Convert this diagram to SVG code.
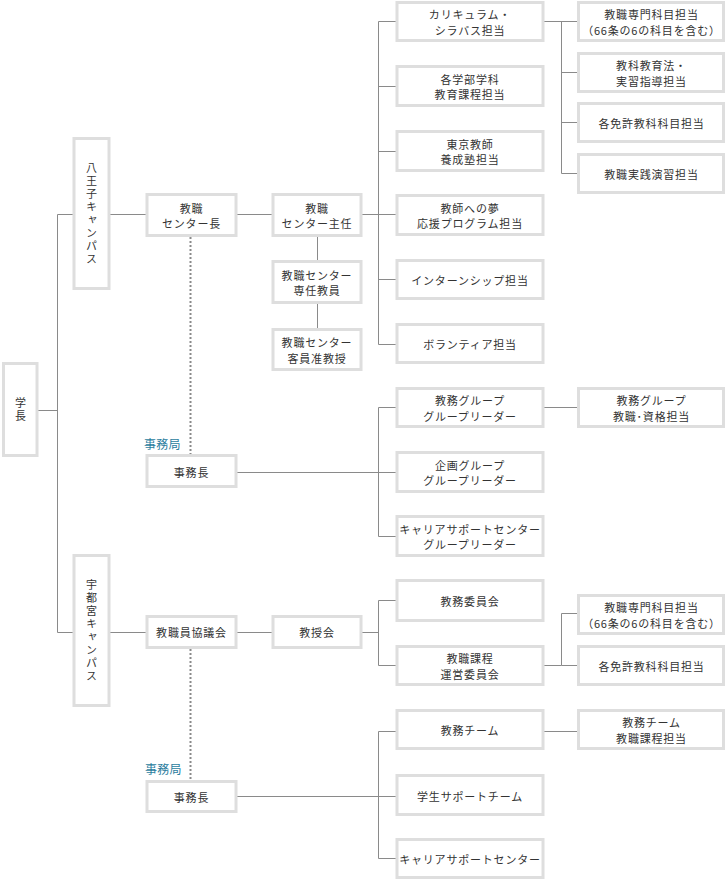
<svg xmlns="http://www.w3.org/2000/svg" width="726" height="881" viewBox="0 0 726 881">
<style>
.box{fill:#fff;stroke:#dedede;stroke-width:3}
.t{font-family:"Noto Sans CJK JP","Noto Sans",sans-serif;font-size:11px;fill:#333;text-anchor:middle;dominant-baseline:central;letter-spacing:0.8px}
.v{font-family:"Noto Sans CJK JP","Noto Sans",sans-serif;font-size:11px;fill:#333;text-anchor:middle;writing-mode:vertical-rl;letter-spacing:2px}
.lbl{font-family:"Noto Sans CJK JP","Noto Sans",sans-serif;font-size:12px;fill:#2b7d9e;letter-spacing:0.3px}
.ln{fill:none;stroke:#8a8a8a;stroke-width:1}
.dot{fill:none;stroke:#8a8a8a;stroke-width:2;stroke-dasharray:2 2}
</style>
<rect width="726" height="881" fill="#fff"/>
<g id="connectors">
<path class="ln" d="M38 410.5H57.5M57.5 214.5V632.5M57.5 214.5H74M57.5 632.5H74M109 214.5H147M236 214.5H273M361 214.5H397M378.5 21.5V344.5M378.5 21.5H397M378.5 86.5H397M378.5 151.5H397M378.5 279.5H397M378.5 344.5H397M317.5 236V261.5M317.5 303V329.5M543 21.5H578.5M561.5 21.5V173.5M561.5 72.5H578.5M561.5 122.5H578.5M561.5 173.5H578.5M236 472.5H397M378.5 407.5V536.5M378.5 407.5H397M378.5 536.5H397M543 407.5H578.5M109 632.5H147M236 632.5H273M361 632.5H378.5M378.5 600.5V665.5M378.5 600.5H397M378.5 665.5H397M543 665.5H561.5M561.5 613.5V665.5M561.5 613.5H578.5M561.5 665.5H578.5M236 796.5H397M378.5 731.5V858.5M378.5 731.5H397M378.5 858.5H397M543 731.5H578.5"/>
<path class="dot" d="M190.5 237V454M190.5 649V780"/>
</g>
<text class="lbl" x="144" y="449">事務局</text>
<text class="lbl" x="145" y="774">事務局</text>
<g id="gakucho"><rect class="box" x="3.5" y="363.5" width="33.5" height="92"/>
<text class="v" x="20.5" y="410.5" letter-spacing="3px">学長</text></g>
<g id="hachioji"><rect class="box" x="74" y="138.5" width="35" height="150"/>
<text class="v" x="91.5" y="214.5">八王子キャンパス</text></g>
<g id="utsunomiya"><rect class="box" x="74" y="555.5" width="35" height="150"/>
<text class="v" x="91.5" y="631.5">宇都宮キャンパス</text></g>
<g id="center-cho"><rect class="box" x="147" y="194.5" width="89" height="41"/>
<text class="t" x="191.5" y="207.5">教職</text><text class="t" x="191.5" y="223">センター長</text></g>
<g id="jimucho1"><rect class="box" x="147" y="455.5" width="89" height="31"/>
<text class="t" x="191.5" y="471.5">事務長</text></g>
<g id="kyogikai"><rect class="box" x="147" y="616.5" width="89" height="31"/>
<text class="t" x="191.5" y="632">教職員協議会</text></g>
<g id="jimucho2"><rect class="box" x="147" y="781.5" width="89" height="30"/>
<text class="t" x="191.5" y="796.5">事務長</text></g>
<g id="shunin"><rect class="box" x="273" y="194.5" width="88" height="41"/>
<text class="t" x="317" y="207.5">教職</text><text class="t" x="317" y="223">センター主任</text></g>
<g id="sennin"><rect class="box" x="273" y="261.5" width="88" height="41"/>
<text class="t" x="317" y="274.5">教職センター</text><text class="t" x="317" y="290">専任教員</text></g>
<g id="kyakuin"><rect class="box" x="273" y="329.5" width="88" height="40"/>
<text class="t" x="317" y="342">教職センター</text><text class="t" x="317" y="357.5">客員准教授</text></g>
<g id="kyojukai"><rect class="box" x="273" y="616.5" width="88" height="31"/>
<text class="t" x="317" y="632">教授会</text></g>
<g id="curriculum"><rect class="box" x="397" y="2.5" width="146" height="38"/>
<text class="t" x="470" y="14">カリキュラム・</text><text class="t" x="470" y="29.5">シラバス担当</text></g>
<g id="gakubu"><rect class="box" x="397" y="66.5" width="146" height="39"/>
<text class="t" x="470" y="78.5">各学部学科</text><text class="t" x="470" y="94">教育課程担当</text></g>
<g id="tokyo"><rect class="box" x="397" y="131.5" width="146" height="39"/>
<text class="t" x="470" y="143.5">東京教師</text><text class="t" x="470" y="159">養成塾担当</text></g>
<g id="yume"><rect class="box" x="397" y="195.5" width="146" height="39"/>
<text class="t" x="470" y="207.5">教師への夢</text><text class="t" x="470" y="223">応援プログラム担当</text></g>
<g id="intern"><rect class="box" x="397" y="260.5" width="146" height="38"/>
<text class="t" x="470" y="280">インターンシップ担当</text></g>
<g id="volunteer"><rect class="box" x="397" y="324.5" width="146" height="38"/>
<text class="t" x="470" y="344">ボランティア担当</text></g>
<g id="kyomu-g"><rect class="box" x="397" y="388.5" width="146" height="38"/>
<text class="t" x="470" y="400">教務グループ</text><text class="t" x="470" y="415.5">グループリーダー</text></g>
<g id="kikaku-g"><rect class="box" x="397" y="452.5" width="146" height="39"/>
<text class="t" x="470" y="464.5">企画グループ</text><text class="t" x="470" y="480">グループリーダー</text></g>
<g id="career-g"><rect class="box" x="397" y="516.5" width="146" height="39"/>
<text class="t" x="470" y="528.5">キャリアサポートセンター</text><text class="t" x="470" y="544">グループリーダー</text></g>
<g id="kyomu-iin"><rect class="box" x="397" y="580.5" width="146" height="40"/>
<text class="t" x="470" y="600.5">教務委員会</text></g>
<g id="unei"><rect class="box" x="397" y="646.5" width="146" height="38"/>
<text class="t" x="470" y="658">教職課程</text><text class="t" x="470" y="673.5">運営委員会</text></g>
<g id="kyomu-team"><rect class="box" x="397" y="710.5" width="146" height="38"/>
<text class="t" x="470" y="730">教務チーム</text></g>
<g id="gakusei"><rect class="box" x="397" y="775.5" width="146" height="39"/>
<text class="t" x="470" y="795.5">学生サポートチーム</text></g>
<g id="career"><rect class="box" x="397" y="839.5" width="146" height="38"/>
<text class="t" x="470" y="859">キャリアサポートセンター</text></g>
<g id="senmon1"><rect class="box" x="578.5" y="2.5" width="145" height="38"/>
<text class="t" x="651.5" y="14">教職専門科目担当</text><text class="t" x="651.5" y="29.5">（66条の6の科目を含む）</text></g>
<g id="kyoka"><rect class="box" x="578.5" y="53.5" width="145" height="38"/>
<text class="t" x="651.5" y="65">教科教育法・</text><text class="t" x="651.5" y="80.5">実習指導担当</text></g>
<g id="menkyo1"><rect class="box" x="578.5" y="103.5" width="145" height="38"/>
<text class="t" x="651.5" y="123">各免許教科科目担当</text></g>
<g id="jissen"><rect class="box" x="578.5" y="154.5" width="145" height="38"/>
<text class="t" x="651.5" y="174">教職実践演習担当</text></g>
<g id="shikaku"><rect class="box" x="578.5" y="388.5" width="145" height="38"/>
<text class="t" x="651.5" y="400">教務グループ</text><text class="t" x="651.5" y="415.5">教職･資格担当</text></g>
<g id="senmon2"><rect class="box" x="578.5" y="595.5" width="145" height="38"/>
<text class="t" x="651.5" y="607">教職専門科目担当</text><text class="t" x="651.5" y="622.5">（66条の6の科目を含む）</text></g>
<g id="menkyo2"><rect class="box" x="578.5" y="646.5" width="145" height="38"/>
<text class="t" x="651.5" y="666">各免許教科科目担当</text></g>
<g id="katei"><rect class="box" x="578.5" y="710.5" width="145" height="38"/>
<text class="t" x="651.5" y="722">教務チーム</text><text class="t" x="651.5" y="737.5">教職課程担当</text></g>
</svg>
